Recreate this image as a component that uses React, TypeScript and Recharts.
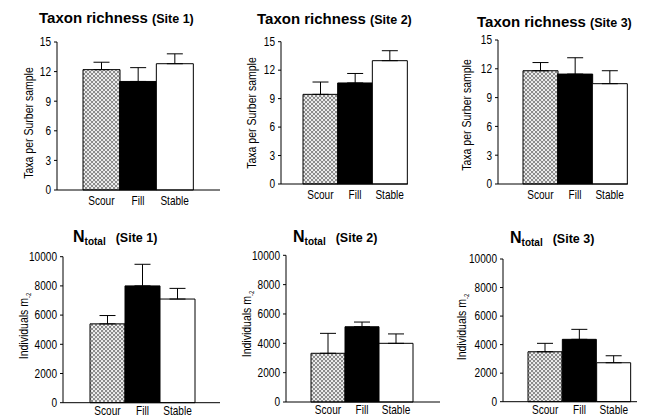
import React from 'react'
import { BarChart, Bar, XAxis, YAxis, Cell, ErrorBar } from 'recharts'

const categories = ['Scour', 'Fill', 'Stable']

const richnessSite1 = [12.2, 11.0, 12.8]
const richnessErrSite1 = [0.75, 1.4, 1.0]
const richnessSite2 = [9.45, 10.65, 13.0]
const richnessErrSite2 = [1.3, 1.0, 1.05]
const richnessSite3 = [11.8, 11.45, 10.45]
const richnessErrSite3 = [0.85, 1.7, 1.35]

const ntotalSite1 = [5400, 8000, 7100]
const ntotalErrSite1 = [570, 1480, 730]
const ntotalSite2 = [3320, 5130, 4000]
const ntotalErrSite2 = [1360, 320, 640]
const ntotalSite3 = [3500, 4370, 2730]
const ntotalErrSite3 = [590, 700, 490]

const richnessTicks = [0, 3, 6, 9, 12, 15]
const ntotalTicks = [0, 2000, 4000, 6000, 8000, 10000]

const fontFamily = '"Liberation Sans", Arial, sans-serif'
const NARROW = 0.84

const YW = 30
const XH = 16

// narrow sans like the original Arial Narrow labels
function YTick(props: any): React.JSX.Element {
  const { x, y, payload } = props
  return (
    <text transform={`translate(${x},${y}) scale(${NARROW},1)`} textAnchor="end" dy="0.36em" fontSize={12} fill="#000" fontFamily={fontFamily}>
      {payload.value}
    </text>
  )
}

function XTick(props: any): React.JSX.Element {
  const { x, y, payload } = props
  return (
    <text transform={`translate(${x},${y}) scale(${NARROW},1)`} textAnchor="middle" dy="0.75em" fontSize={12} fill="#000" fontFamily={fontFamily}>
      {payload.value}
    </text>
  )
}

interface PanelProps {
  id: string
  left: number
  top: number
  width: number
  height: number
  x0: number
  x1: number
  y0: number
  y1: number
  padL: number
  padR: number
  labelGap: number
  values: number[]
  errors: number[]
  ticks: number[]
}

function Panel(p: PanelProps): React.JSX.Element {
  const data = categories.map((c, i) => ({
    name: c,
    value: p.values[i],
    err: [0, p.errors[i]]
  }))
  const fills = [`url(#${p.id})`, '#000', '#fff']
  const max = p.ticks[p.ticks.length - 1]
  return (
    <div style={{ position: 'absolute', left: p.left, top: p.top }}>
      <BarChart
        width={p.width}
        height={p.height}
        data={data}
        barCategoryGap={0}
        margin={{
          top: p.y0 - p.top,
          bottom: p.top + p.height - p.y1 - XH,
          left: p.x0 - p.left - YW,
          right: p.left + p.width - p.x1
        }}
      >
        <defs>
          <pattern id={p.id} width="4" height="4" patternUnits="userSpaceOnUse">
            <rect width="4" height="4" fill="#e4e4e4" />
            <path d="M0,0 L4,4 M4,0 L0,4" stroke="#666" strokeWidth="0.7" />
            <circle cx="2" cy="0" r="0.8" fill="#fff" />
            <circle cx="0" cy="2" r="0.8" fill="#fff" />
          </pattern>
        </defs>
        <XAxis
          dataKey="name"
          height={XH}
          padding={{ left: p.padL, right: p.padR }}
          axisLine={{ stroke: '#000' }}
          tickLine={false}
          tickSize={0}
          tickMargin={p.labelGap}
          interval={0}
          tick={<XTick />}
        />
        <YAxis
          width={YW}
          domain={[0, max]}
          ticks={p.ticks}
          interval={0}
          axisLine={{ stroke: '#000' }}
          tickLine={{ stroke: '#000' }}
          tickSize={3}
          tickMargin={3}
          tick={<YTick />}
        />
        <Bar dataKey="value" stroke="#000" strokeWidth={1} isAnimationActive={false}>
          {data.map((d, i) => (
            <Cell key={d.name} fill={fills[i]} />
          ))}
          <ErrorBar dataKey="err" width={8} stroke="#000" strokeWidth={1} direction="y" />
        </Bar>
      </BarChart>
    </div>
  )
}

function RichTitle({ left, top, site }: { left: number; top: number; site: number }): React.JSX.Element {
  return (
    <div style={{ position: 'absolute', left, top, fontFamily, fontWeight: 700, whiteSpace: 'nowrap', lineHeight: 1 }}>
      <span style={{ fontSize: 15 }}>Taxon richness </span>
      <span style={{ fontSize: 12.5 }}>(Site {site})</span>
    </div>
  )
}

function NTitle({ left, top, site }: { left: number; top: number; site: number }): React.JSX.Element {
  return (
    <div style={{ position: 'absolute', left, top, fontFamily, fontWeight: 700, whiteSpace: 'nowrap', lineHeight: 1 }}>
      <span style={{ fontSize: 16 }}>N</span>
      <span style={{ fontSize: 10, position: 'relative', top: 3 }}>total</span>
      <span style={{ fontSize: 12.5, marginLeft: 10 }}>(Site {site})</span>
    </div>
  )
}

function YLabel({ cx, cy, children }: { cx: number; cy: number; children: React.ReactNode }): React.JSX.Element {
  return (
    <div
      style={{
        position: 'absolute',
        left: cx,
        top: cy,
        transform: `translate(-50%, -50%) rotate(-90deg) scaleX(${NARROW})`,
        fontFamily,
        fontSize: 12.5,
        whiteSpace: 'nowrap',
        lineHeight: 1
      }}
    >
      {children}
    </div>
  )
}

const indiv = (
  <span>
    Individuals m<span style={{ fontSize: 7, verticalAlign: 'sub' }}>-2</span>
  </span>
)

export default function App(): React.JSX.Element {
  return (
    <div style={{ position: 'absolute', left: 0, top: 0, width: 656, height: 419, background: '#fff', overflow: 'hidden' }}>
      <RichTitle left={39} top={10} site={1} />
      <RichTitle left={257} top={11} site={2} />
      <RichTitle left={477} top={14} site={3} />
      <NTitle left={73} top={229} site={1} />
      <NTitle left={293} top={229} site={2} />
      <NTitle left={510} top={230} site={3} />

      <YLabel cx={29} cy={123}>Taxa per Surber sample</YLabel>
      <YLabel cx={252} cy={113}>Taxa per Surber sample</YLabel>
      <YLabel cx={467} cy={115}>Taxa per Surber sample</YLabel>
      <YLabel cx={25} cy={326}>{indiv}</YLabel>
      <YLabel cx={248} cy={324}>{indiv}</YLabel>
      <YLabel cx={463} cy={327}>{indiv}</YLabel>

      <Panel id="p1" left={0} top={30} width={222} height={185} x0={57} x1={220} y0={42} y1={190} padL={26} padR={27} labelGap={6} values={richnessSite1} errors={richnessErrSite1} ticks={richnessTicks} />
      <Panel id="p2" left={222} top={30} width={220} height={180} x0={281} x1={408} y0={41.7} y1={184} padL={22} padR={1} labelGap={6} values={richnessSite2} errors={richnessErrSite2} ticks={richnessTicks} />
      <Panel id="p3" left={442} top={30} width={214} height={180} x0={498} x1={628} y0={40} y1={184} padL={25} padR={1} labelGap={6} values={richnessSite3} errors={richnessErrSite3} ticks={richnessTicks} />
      <Panel id="p4" left={0} top={245} width={222} height={174} x0={63} x1={220} y0={256.7} y1={402.7} padL={27} padR={25} labelGap={3} values={ntotalSite1} errors={ntotalErrSite1} ticks={ntotalTicks} />
      <Panel id="p5" left={222} top={245} width={220} height={174} x0={286} x1={440} y0={255.3} y1={402} padL={25} padR={27} labelGap={3} values={ntotalSite2} errors={ntotalErrSite2} ticks={ntotalTicks} />
      <Panel id="p6" left={442} top={245} width={214} height={174} x0={503} x1={637} y0={259} y1={401.7} padL={25} padR={6} labelGap={3} values={ntotalSite3} errors={ntotalErrSite3} ticks={ntotalTicks} />
    </div>
  )
}
